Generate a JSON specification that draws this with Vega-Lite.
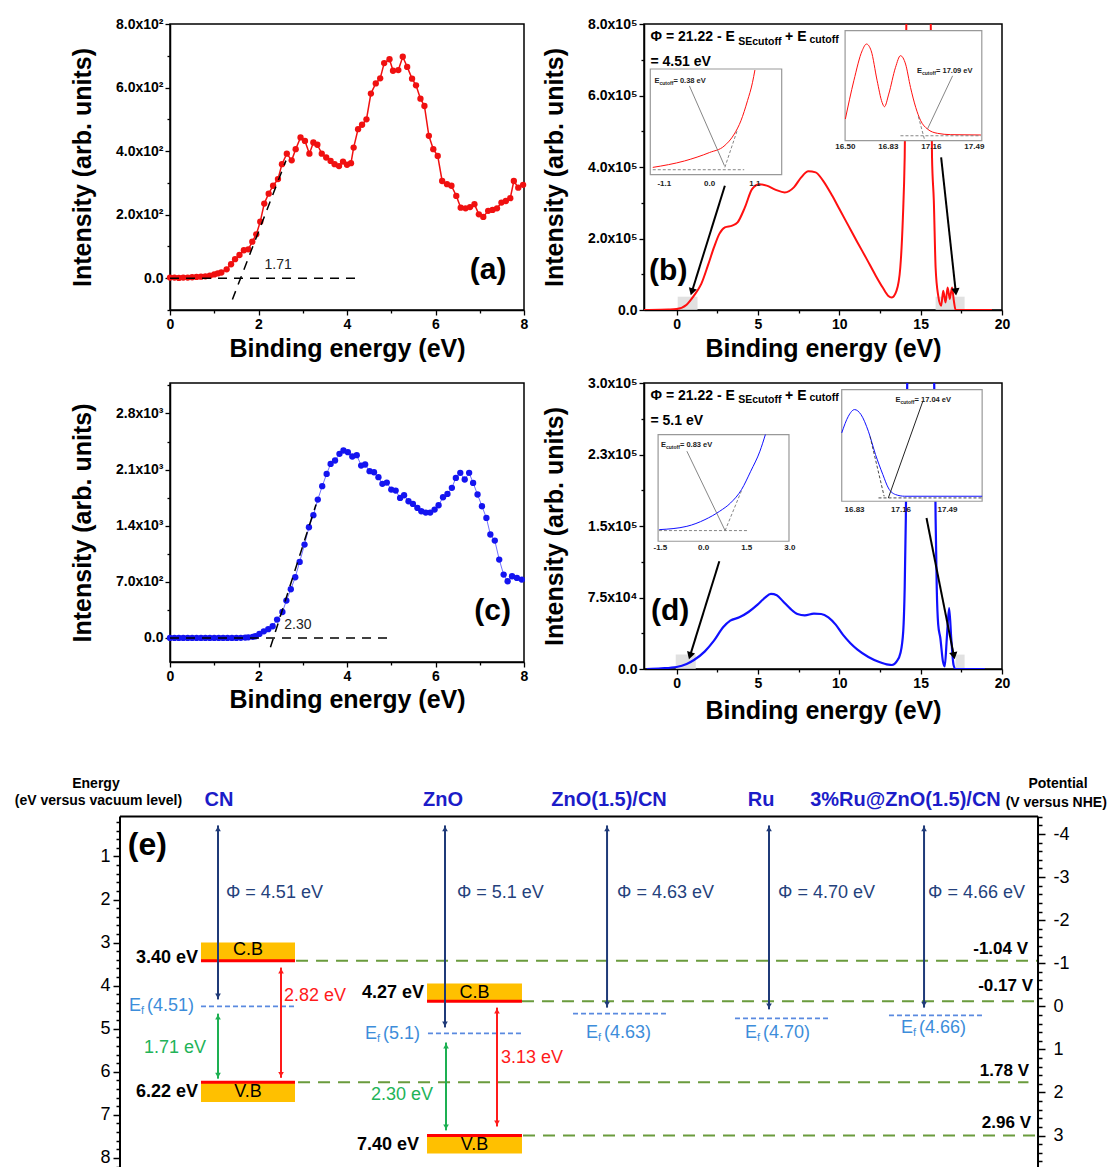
{
"$schema":"https://vega.github.io/schema/vega-lite/v6.json",
"background":"white",
"padding":{"left":14,"top":16,"right":0,"bottom":0},
"config":{"font":"Liberation Sans","view":{"stroke":null},
 "axis":{"domainColor":"#000","domainWidth":1.5,"tickColor":"#000","tickWidth":1.3,"labelColor":"#000","labelFont":"Liberation Sans","labelFontSize":14,"labelFontWeight":"bold","titleFont":"Liberation Sans","titleFontSize":25,"titleFontWeight":"bold","titleColor":"#000","grid":false,"labelOverlap":false,"labelFlush":false,"labelPadding":2}},
"datasets":{
"aPts":[{"x":0,"y":2},{"x":0.1,"y":2},{"x":0.2,"y":1},{"x":0.3,"y":2},{"x":0.4,"y":2},{"x":0.5,"y":3},{"x":0.6,"y":4},{"x":0.7,"y":5},{"x":0.8,"y":6},{"x":0.9,"y":8},{"x":1.0,"y":12},{"x":1.08,"y":15},{"x":1.16,"y":18},{"x":1.28,"y":28},{"x":1.38,"y":44},{"x":1.47,"y":60},{"x":1.57,"y":73},{"x":1.67,"y":88},{"x":1.77,"y":91},{"x":1.86,"y":115},{"x":1.95,"y":138},{"x":2.04,"y":178},{"x":2.13,"y":235},{"x":2.23,"y":266},{"x":2.33,"y":291},{"x":2.44,"y":312},{"x":2.53,"y":359},{"x":2.64,"y":392},{"x":2.75,"y":371},{"x":2.84,"y":406},{"x":2.95,"y":443},{"x":3.05,"y":432},{"x":3.15,"y":392},{"x":3.24,"y":427},{"x":3.33,"y":420},{"x":3.43,"y":392},{"x":3.53,"y":380},{"x":3.63,"y":369},{"x":3.72,"y":359},{"x":3.82,"y":353},{"x":3.91,"y":367},{"x":4.0,"y":357},{"x":4.09,"y":362},{"x":4.15,"y":411},{"x":4.25,"y":469},{"x":4.34,"y":483},{"x":4.44,"y":500},{"x":4.54,"y":581},{"x":4.65,"y":613},{"x":4.75,"y":629},{"x":4.84,"y":677},{"x":4.96,"y":689},{"x":5.04,"y":653},{"x":5.16,"y":655},{"x":5.26,"y":697},{"x":5.36,"y":665},{"x":5.47,"y":628},{"x":5.56,"y":607},{"x":5.66,"y":565},{"x":5.75,"y":542},{"x":5.85,"y":448},{"x":5.95,"y":406},{"x":6.05,"y":385},{"x":6.15,"y":306},{"x":6.26,"y":296},{"x":6.36,"y":291},{"x":6.47,"y":259},{"x":6.57,"y":222},{"x":6.68,"y":220},{"x":6.78,"y":224},{"x":6.88,"y":233},{"x":6.98,"y":201},{"x":7.08,"y":193},{"x":7.19,"y":212},{"x":7.29,"y":215},{"x":7.39,"y":220},{"x":7.49,"y":238},{"x":7.59,"y":243},{"x":7.69,"y":252},{"x":7.77,"y":306},{"x":7.87,"y":285},{"x":7.98,"y":294}],
"cPts":[{"x":0,"y":0},{"x":0.1,"y":0},{"x":0.2,"y":0},{"x":0.3,"y":0},{"x":0.4,"y":0},{"x":0.5,"y":0},{"x":0.6,"y":0},{"x":0.7,"y":0},{"x":0.8,"y":0},{"x":0.9,"y":0},{"x":1.0,"y":0},{"x":1.1,"y":0},{"x":1.2,"y":0},{"x":1.3,"y":0},{"x":1.4,"y":0},{"x":1.5,"y":0},{"x":1.6,"y":2},{"x":1.7,"y":5},{"x":1.77,"y":8},{"x":1.87,"y":14},{"x":1.93,"y":21},{"x":2.02,"y":50},{"x":2.12,"y":83},{"x":2.22,"y":110},{"x":2.32,"y":146},{"x":2.42,"y":229},{"x":2.54,"y":324},{"x":2.63,"y":466},{"x":2.73,"y":607},{"x":2.83,"y":757},{"x":2.93,"y":948},{"x":3.04,"y":1165},{"x":3.14,"y":1381},{"x":3.24,"y":1531},{"x":3.34,"y":1726},{"x":3.44,"y":1893},{"x":3.54,"y":2046},{"x":3.63,"y":2171},{"x":3.73,"y":2213},{"x":3.83,"y":2296},{"x":3.92,"y":2338},{"x":4.02,"y":2317},{"x":4.12,"y":2263},{"x":4.22,"y":2280},{"x":4.32,"y":2150},{"x":4.41,"y":2163},{"x":4.51,"y":2080},{"x":4.61,"y":2067},{"x":4.71,"y":2005},{"x":4.8,"y":1922},{"x":4.9,"y":1938},{"x":5.0,"y":1851},{"x":5.1,"y":1838},{"x":5.2,"y":1747},{"x":5.29,"y":1780},{"x":5.39,"y":1705},{"x":5.49,"y":1672},{"x":5.59,"y":1622},{"x":5.68,"y":1580},{"x":5.78,"y":1564},{"x":5.88,"y":1564},{"x":5.98,"y":1601},{"x":6.07,"y":1655},{"x":6.17,"y":1755},{"x":6.27,"y":1797},{"x":6.37,"y":1872},{"x":6.46,"y":1996},{"x":6.56,"y":2059},{"x":6.66,"y":1976},{"x":6.76,"y":2059},{"x":6.85,"y":1934},{"x":6.95,"y":1789},{"x":7.05,"y":1643},{"x":7.15,"y":1497},{"x":7.24,"y":1290},{"x":7.34,"y":1215},{"x":7.44,"y":978},{"x":7.54,"y":790},{"x":7.63,"y":707},{"x":7.73,"y":770},{"x":7.84,"y":749},{"x":7.95,"y":728}],
"bLine":[{"x":-2,"y":0},{"x":-1,"y":500},{"x":-0.5,"y":1200},{"x":0,"y":2800},{"x":0.62,"y":15000},{"x":1.07,"y":40000},{"x":1.52,"y":73000},{"x":1.96,"y":129000},{"x":2.3,"y":175000},{"x":2.63,"y":213000},{"x":2.97,"y":231000},{"x":3.42,"y":236000},{"x":3.75,"y":245000},{"x":4.2,"y":287000},{"x":4.64,"y":338000},{"x":5.09,"y":352000},{"x":5.54,"y":348000},{"x":6.1,"y":336000},{"x":6.65,"y":329000},{"x":7.21,"y":343000},{"x":7.66,"y":371000},{"x":8.1,"y":388000},{"x":8.55,"y":385000},{"x":9.0,"y":362000},{"x":9.56,"y":320000},{"x":10.0,"y":283000},{"x":10.56,"y":236000},{"x":11.12,"y":189000},{"x":11.68,"y":143000},{"x":12.24,"y":96000},{"x":12.68,"y":62000},{"x":13.0,"y":40000},{"x":13.23,"y":35000},{"x":13.52,"y":54000},{"x":13.75,"y":119000},{"x":13.91,"y":259000},{"x":14.02,"y":427000},{"x":14.15,"y":900000},{"x":14.3,"y":1000000},{"x":15.4,"y":1000000},{"x":15.6,"y":900000},{"x":15.7,"y":427000},{"x":15.81,"y":306000},{"x":15.92,"y":119000},{"x":16.08,"y":40000},{"x":16.26,"y":12000},{"x":16.39,"y":54000},{"x":16.53,"y":21000},{"x":16.66,"y":63000},{"x":16.79,"y":31000},{"x":16.93,"y":63000},{"x":17.04,"y":26000},{"x":17.15,"y":0},{"x":19.38,"y":0}],
"dLine":[{"x":-1.83,"y":0},{"x":-0.94,"y":700},{"x":0,"y":2100},{"x":0.62,"y":5200},{"x":1.07,"y":9400},{"x":1.74,"y":18500},{"x":2.3,"y":29700},{"x":2.86,"y":43700},{"x":3.3,"y":50700},{"x":3.86,"y":54200},{"x":4.42,"y":59800},{"x":4.98,"y":67500},{"x":5.42,"y":74500},{"x":5.8,"y":78700},{"x":6.16,"y":77300},{"x":6.54,"y":71000},{"x":6.99,"y":63300},{"x":7.43,"y":57700},{"x":7.88,"y":56300},{"x":8.44,"y":58000},{"x":8.89,"y":57700},{"x":9.33,"y":54200},{"x":9.78,"y":46500},{"x":10.22,"y":36000},{"x":10.67,"y":27300},{"x":11.12,"y":20300},{"x":11.79,"y":12600},{"x":12.46,"y":7300},{"x":13.02,"y":4500},{"x":13.24,"y":4200},{"x":13.53,"y":8000},{"x":13.76,"y":16800},{"x":13.93,"y":39500},{"x":14.02,"y":85000},{"x":14.09,"y":158000},{"x":14.16,"y":277000},{"x":14.3,"y":400000},{"x":15.7,"y":400000},{"x":15.85,"y":277000},{"x":15.92,"y":158000},{"x":15.99,"y":85000},{"x":16.08,"y":46500},{"x":16.21,"y":32500},{"x":16.37,"y":8000},{"x":16.48,"y":2800},{"x":16.61,"y":32500},{"x":16.75,"y":64000},{"x":16.88,"y":32500},{"x":17.02,"y":4500},{"x":17.15,"y":0},{"x":18.94,"y":0}],
"bIn1":[{"x":-1.38,"y":0.069},{"x":-0.61,"y":0.13},{"x":0,"y":0.21},{"x":0.35,"y":0.27},{"x":0.6,"y":0.385},{"x":0.76,"y":0.51},{"x":0.92,"y":0.7},{"x":1.04,"y":0.87},{"x":1.1,"y":0.99}],
"bIn2":[{"x":16.5,"y":0.197},{"x":16.565,"y":0.545},{"x":16.629,"y":0.818},{"x":16.662,"y":0.879},{"x":16.698,"y":0.818},{"x":16.744,"y":0.545},{"x":16.782,"y":0.348},{"x":16.8,"y":0.309},{"x":16.833,"y":0.424},{"x":16.885,"y":0.667},{"x":16.923,"y":0.773},{"x":16.962,"y":0.697},{"x":17.0,"y":0.485},{"x":17.04,"y":0.303},{"x":17.078,"y":0.182},{"x":17.13,"y":0.106},{"x":17.207,"y":0.067},{"x":17.309,"y":0.055},{"x":17.54,"y":0.052}],
"dIn1":[{"x":-1.54,"y":0.109},{"x":-0.58,"y":0.14},{"x":0.05,"y":0.203},{"x":0.56,"y":0.281},{"x":0.94,"y":0.359},{"x":1.32,"y":0.484},{"x":1.64,"y":0.656},{"x":1.96,"y":0.844},{"x":2.15,"y":1.0}],
"dIn2":[{"x":16.739,"y":0.612},{"x":16.786,"y":0.761},{"x":16.83,"y":0.821},{"x":16.876,"y":0.776},{"x":16.928,"y":0.627},{"x":16.979,"y":0.418},{"x":17.031,"y":0.239},{"x":17.07,"y":0.119},{"x":17.121,"y":0.06},{"x":17.186,"y":0.045},{"x":17.736,"y":0.045}]
},
"columns":2,"align":"none","bounds":"flush","spacing":{"row":73,"column":120},
"concat":[
{
 "width":354,"height":286,"view":{"stroke":"#000","strokeWidth":1.5},
 "encoding":{
  "x":{"field":"x","type":"quantitative","scale":{"domain":[0,8],"nice":false,"zero":false},"axis":{"orient":"bottom","title":"Binding energy (eV)","values":[0,1,2,3,4,5,6,7,8],"labelExpr":"datum.value % 2 == 0 ? datum.label : ''","tickSize":{"condition":{"test":"datum.value % 2 == 0","value":5},"value":3},"titlePadding":5}},
  "y":{"field":"y","type":"quantitative","scale":{"domain":[-100,800],"nice":false,"zero":false},"axis":{"orient":"left","title":"Intensity (arb. units)","values":[-100,0,100,200,300,400,500,600,700,800],"labelExpr":"datum.value == 0 ? '0.0' : (datum.value % 200 == 0 ? format(datum.value/100, '.1f') + 'x10²' : '')","tickSize":{"condition":{"test":"datum.value % 200 == 0","value":5},"value":3},"titlePadding":20}}
 },
 "layer":[
  {"data":{"name":"aPts"},"mark":{"type":"line","color":"#F01010","strokeWidth":1.5}},
  {"data":{"name":"aPts"},"mark":{"type":"circle","color":"#F01010","size":40,"opacity":1}},
  {"data":{"values":[{"g":1,"x":0,"y":0},{"g":1,"x":4.24,"y":0},{"g":2,"x":1.41,"y":-67},{"g":2,"x":2.62,"y":370}]},"mark":{"type":"line","color":"#000","strokeWidth":1.5,"strokeDash":[9,7]},"encoding":{"detail":{"field":"g"}}},
  {"data":{"values":[{"x":2.445,"y":43,"t":"1.71"}]},"mark":{"type":"text","fontSize":14,"color":"#222"},"encoding":{"text":{"field":"t"}}},
  {"data":{"values":[{"x":7.19,"y":27,"t":"(a)"}]},"mark":{"type":"text","fontSize":30,"fontWeight":"bold","color":"#000"},"encoding":{"text":{"field":"t"}}}
 ]
},
{
 "width":358,"height":286,"view":{"stroke":"#000","strokeWidth":1.5},
 "resolve":{"scale":{"x":"independent","y":"independent"}},
 "layer":[
  {"encoding":{
    "x":{"field":"x","type":"quantitative","scale":{"domain":[-2,20],"nice":false,"zero":false},"axis":{"orient":"bottom","title":"Binding energy (eV)","values":[0,2.5,5,7.5,10,12.5,15,17.5,20],"labelExpr":"datum.value % 5 == 0 ? datum.label : ''","tickSize":{"condition":{"test":"datum.value % 5 == 0","value":5},"value":3},"titlePadding":5}},
    "y":{"field":"y","type":"quantitative","scale":{"domain":[0,800000],"nice":false,"zero":false},"axis":{"orient":"left","title":"Intensity (arb. units)","values":[0,100000,200000,300000,400000,500000,600000,700000,800000],"labelExpr":"datum.value == 0 ? '0.0' : (datum.value % 200000 == 0 ? format(datum.value/100000, '.1f') + 'x10⁵' : '')","tickSize":{"condition":{"test":"datum.value % 200000 == 0","value":5},"value":3},"titlePadding":20}}},
   "layer":[
    {"data":{"values":[{"x":0.07,"x2":1.29,"y":0,"y2":37200},{"x":15.92,"x2":17.7,"y":0,"y2":37200}]},"mark":{"type":"rect","color":"#DADADA","opacity":0.8},"encoding":{"x2":{"field":"x2"},"y2":{"field":"y2"}}},
    {"data":{"name":"bLine"},"mark":{"type":"line","color":"#FF1010","strokeWidth":2,"clip":true,"interpolate":"monotone"}},
    {"data":{"values":[{"x":2.97,"y":347700,"x2":0.96,"y2":54000},{"x":16.26,"y":427000,"x2":17.15,"y2":54000}]},"mark":{"type":"rule","color":"#000","strokeWidth":2},"encoding":{"x2":{"field":"x2"},"y2":{"field":"y2"}}},
    {"data":{"values":[{"x":0.96,"y":54000}]},"mark":{"type":"point","shape":"triangle","angle":197,"filled":true,"size":70,"color":"#000","opacity":1}},
    {"data":{"values":[{"x":17.15,"y":54000}]},"mark":{"type":"point","shape":"triangle","angle":174,"filled":true,"size":70,"color":"#000","opacity":1}},
    {"data":{"values":[{"x":-1.6,"y":762500,"t":"Φ = 21.22 - E"},{"x":6.67,"y":762500,"t":"+ E"},{"x":-1.6,"y":693000,"t":"= 4.51 eV"}]},"mark":{"type":"text","fontSize":14,"fontWeight":"bold","align":"left","color":"#000"},"encoding":{"text":{"field":"t"}}},
    {"data":{"values":[{"x":3.79,"y":751000,"t":"SEcutoff"},{"x":8.17,"y":755000,"t":"cutoff"}]},"mark":{"type":"text","fontSize":10.5,"fontWeight":"bold","align":"left","color":"#000"},"encoding":{"text":{"field":"t"}}},
    {"data":{"values":[{"x":-0.51,"y":110000,"t":"(b)"}]},"mark":{"type":"text","fontSize":30,"fontWeight":"bold","color":"#000"},"encoding":{"text":{"field":"t"}}}
   ]},
  {"encoding":{
    "x":{"field":"x","type":"quantitative","scale":{"domain":[-1.593,7.099],"nice":false,"zero":false},"axis":null},
    "y":{"field":"y","type":"quantitative","scale":{"domain":[-1.28,1.4256],"nice":false,"zero":false},"axis":null}},
   "layer":[
    {"data":{"values":[{"x":-1.44,"x2":1.75,"y":0,"y2":1}]},"mark":{"type":"rect","fill":"#fff","stroke":"#999","strokeWidth":1.2},"encoding":{"x2":{"field":"x2"},"y2":{"field":"y2"}}},
    {"data":{"name":"bIn1"},"mark":{"type":"line","color":"#FF1010","strokeWidth":1,"interpolate":"monotone"}},
    {"data":{"values":[{"g":1,"x":-1.38,"y":0.047},{"g":1,"x":0.84,"y":0.047},{"g":2,"x":0.37,"y":0.07},{"g":2,"x":0.68,"y":0.43}]},"mark":{"type":"line","color":"#777","strokeWidth":0.9,"strokeDash":[3,2]},"encoding":{"detail":{"field":"g"}}},
    {"data":{"values":[{"x":-0.49,"y":0.84,"x2":0.36,"y2":0.085}]},"mark":{"type":"rule","color":"#777","strokeWidth":0.9},"encoding":{"x2":{"field":"x2"},"y2":{"field":"y2"}}},
    {"data":{"values":[{"x":-1.34,"y":0.89,"t":"= 0.38 eV"}]},"layer":[
      {"mark":{"type":"text","text":"E","fontSize":7.5,"fontWeight":"bold","align":"left","color":"#222"}},
      {"mark":{"type":"text","text":"cutoff","fontSize":5,"fontWeight":"bold","align":"left","dx":5,"dy":2,"color":"#222"}},
      {"mark":{"type":"text","fontSize":7.5,"fontWeight":"bold","align":"left","dx":19,"color":"#222"},"encoding":{"text":{"field":"t"}}}]},
    {"data":{"values":[{"x":-1.1,"y":-0.09,"t":"-1.1"},{"x":0,"y":-0.09,"t":"0.0"},{"x":1.1,"y":-0.09,"t":"1.1"}]},"mark":{"type":"text","fontSize":8,"fontWeight":"bold","color":"#222"},"encoding":{"text":{"field":"t"}}}
   ]},
  {"encoding":{
    "x":{"field":"x","type":"quantitative","scale":{"domain":[14.955,17.702],"nice":false,"zero":false},"axis":null},
    "y":{"field":"y","type":"quantitative","scale":{"domain":[-1.539,1.061],"nice":false,"zero":false},"axis":null}},
   "layer":[
    {"data":{"values":[{"x":16.498,"x2":17.547,"y":0,"y2":1}]},"mark":{"type":"rect","fill":"#fff","stroke":"#999","strokeWidth":1.2},"encoding":{"x2":{"field":"x2"},"y2":{"field":"y2"}}},
    {"data":{"name":"bIn2"},"mark":{"type":"line","color":"#FF1010","strokeWidth":1,"interpolate":"monotone"}},
    {"data":{"values":[{"g":1,"x":16.923,"y":0.045},{"g":1,"x":17.54,"y":0.045},{"g":2,"x":17.06,"y":0.22},{"g":2,"x":17.11,"y":0.0}]},"mark":{"type":"line","color":"#777","strokeWidth":0.9,"strokeDash":[3,2]},"encoding":{"detail":{"field":"g"}}},
    {"data":{"values":[{"x":17.323,"y":0.59,"x2":17.13,"y2":0.106}]},"mark":{"type":"rule","color":"#777","strokeWidth":0.9},"encoding":{"x2":{"field":"x2"},"y2":{"field":"y2"}}},
    {"data":{"values":[{"x":17.05,"y":0.636,"t":"= 17.09 eV"}]},"layer":[
      {"mark":{"type":"text","text":"E","fontSize":7.5,"fontWeight":"bold","align":"left","color":"#222"}},
      {"mark":{"type":"text","text":"cutoff","fontSize":5,"fontWeight":"bold","align":"left","dx":5,"dy":2,"color":"#222"}},
      {"mark":{"type":"text","fontSize":7.5,"fontWeight":"bold","align":"left","dx":19,"color":"#222"},"encoding":{"text":{"field":"t"}}}]},
    {"data":{"values":[{"x":16.5,"y":-0.06,"t":"16.50"},{"x":16.83,"y":-0.06,"t":"16.83"},{"x":17.16,"y":-0.06,"t":"17.16"},{"x":17.49,"y":-0.06,"t":"17.49"}]},"mark":{"type":"text","fontSize":8,"fontWeight":"bold","color":"#222"},"encoding":{"text":{"field":"t"}}}
   ]}
 ]
},
{
 "width":354,"height":279,"view":{"stroke":"#000","strokeWidth":1.5},
 "encoding":{
  "x":{"field":"x","type":"quantitative","scale":{"domain":[0,8],"nice":false,"zero":false},"axis":{"orient":"bottom","title":"Binding energy (eV)","values":[0,1,2,3,4,5,6,7,8],"labelExpr":"datum.value % 2 == 0 ? datum.label : ''","tickSize":{"condition":{"test":"datum.value % 2 == 0","value":5},"value":3},"titlePadding":4}},
  "y":{"field":"y","type":"quantitative","scale":{"domain":[-300,3180],"nice":false,"zero":false},"axis":{"orient":"left","title":"Intensity (arb. units)","values":[0,350,700,1050,1400,1750,2100,2450,2800,3150],"labelExpr":"datum.value == 0 ? '0.0' : (datum.value == 700 ? '7.0x10²' : (datum.value % 700 == 0 ? format(datum.value/1000, '.1f') + 'x10³' : ''))","tickSize":{"condition":{"test":"datum.value % 700 == 0","value":5},"value":3},"titlePadding":20}}
 },
 "layer":[
  {"data":{"name":"cPts"},"mark":{"type":"line","color":"#7070FF","strokeWidth":1}},
  {"data":{"name":"cPts"},"mark":{"type":"circle","color":"#1414F0","size":40,"opacity":1}},
  {"data":{"values":[{"g":1,"x":0,"y":0},{"g":1,"x":5.0,"y":0},{"g":2,"x":2.27,"y":-116},{"g":2,"x":3.3,"y":1665}]},"mark":{"type":"line","color":"#000","strokeWidth":1.5,"strokeDash":[9,7]},"encoding":{"detail":{"field":"g"}}},
  {"data":{"values":[{"x":2.89,"y":158,"t":"2.30"}]},"mark":{"type":"text","fontSize":14,"color":"#222"},"encoding":{"text":{"field":"t"}}},
  {"data":{"values":[{"x":7.29,"y":333,"t":"(c)"}]},"mark":{"type":"text","fontSize":30,"fontWeight":"bold","color":"#000"},"encoding":{"text":{"field":"t"}}}
 ]
},
{
 "width":358,"height":286,"view":{"stroke":"#000","strokeWidth":1.5},
 "resolve":{"scale":{"x":"independent","y":"independent"}},
 "layer":[
  {"encoding":{
    "x":{"field":"x","type":"quantitative","scale":{"domain":[-2,20],"nice":false,"zero":false},"axis":{"orient":"bottom","title":"Binding energy (eV)","values":[0,2.5,5,7.5,10,12.5,15,17.5,20],"labelExpr":"datum.value % 5 == 0 ? datum.label : ''","tickSize":{"condition":{"test":"datum.value % 5 == 0","value":5},"value":3},"titlePadding":8}},
    "y":{"field":"y","type":"quantitative","scale":{"domain":[0,300000],"nice":false,"zero":false},"axis":{"orient":"left","title":"Intensity (arb. units)","values":[0,37500,75000,112500,150000,187500,225000,262500,300000],"labelExpr":"datum.value == 0 ? '0.0' : (datum.value == 75000 ? '7.5x10⁴' : (datum.value == 150000 ? '1.5x10⁵' : (datum.value == 225000 ? '2.3x10⁵' : (datum.value == 300000 ? '3.0x10⁵' : ''))))","tickSize":{"condition":{"test":"datum.value % 75000 == 0","value":5},"value":3},"titlePadding":20}}},
   "layer":[
    {"data":{"values":[{"x":-0.05,"x2":1.18,"y":0,"y2":15100},{"x":17.15,"x2":17.7,"y":0,"y2":15100}]},"mark":{"type":"rect","color":"#DADADA","opacity":0.8},"encoding":{"x2":{"field":"x2"},"y2":{"field":"y2"}}},
    {"data":{"name":"dLine"},"mark":{"type":"line","color":"#1010FF","strokeWidth":2.2,"clip":true,"interpolate":"monotone"}},
    {"data":{"values":[{"x":2.63,"y":113000,"x2":0.85,"y2":15100},{"x":15.36,"y":158400,"x2":17.03,"y2":15100}]},"mark":{"type":"rule","color":"#000","strokeWidth":2},"encoding":{"x2":{"field":"x2"},"y2":{"field":"y2"}}},
    {"data":{"values":[{"x":0.85,"y":15100}]},"mark":{"type":"point","shape":"triangle","angle":197,"filled":true,"size":70,"color":"#000","opacity":1}},
    {"data":{"values":[{"x":17.03,"y":15100}]},"mark":{"type":"point","shape":"triangle","angle":169,"filled":true,"size":70,"color":"#000","opacity":1}},
    {"data":{"values":[{"x":-1.6,"y":286000,"t":"Φ = 21.22 - E"},{"x":6.67,"y":286000,"t":"+ E"},{"x":-1.6,"y":259800,"t":"= 5.1 eV"}]},"mark":{"type":"text","fontSize":14,"fontWeight":"bold","align":"left","color":"#000"},"encoding":{"text":{"field":"t"}}},
    {"data":{"values":[{"x":3.79,"y":281800,"t":"SEcutoff"},{"x":8.17,"y":284300,"t":"cutoff"}]},"mark":{"type":"text","fontSize":10.5,"fontWeight":"bold","align":"left","color":"#000"},"encoding":{"text":{"field":"t"}}},
    {"data":{"values":[{"x":-0.39,"y":60500,"t":"(d)"}]},"mark":{"type":"text","fontSize":30,"fontWeight":"bold","color":"#000"},"encoding":{"text":{"field":"t"}}}
   ]},
  {"encoding":{
    "x":{"field":"x","type":"quantitative","scale":{"domain":[-2.07,10.375],"nice":false,"zero":false},"axis":null},
    "y":{"field":"y","type":"quantitative","scale":{"domain":[-1.197,1.483],"nice":false,"zero":false},"axis":null}},
   "layer":[
    {"data":{"values":[{"x":-1.58,"x2":2.97,"y":0,"y2":1}]},"mark":{"type":"rect","fill":"#fff","stroke":"#999","strokeWidth":1.2},"encoding":{"x2":{"field":"x2"},"y2":{"field":"y2"}}},
    {"data":{"name":"dIn1"},"mark":{"type":"line","color":"#1010FF","strokeWidth":1,"interpolate":"monotone"}},
    {"data":{"values":[{"g":1,"x":-1.55,"y":0.1},{"g":1,"x":1.57,"y":0.1},{"g":2,"x":0.75,"y":0.1},{"g":2,"x":1.32,"y":0.475}]},"mark":{"type":"line","color":"#777","strokeWidth":0.9,"strokeDash":[3,2]},"encoding":{"detail":{"field":"g"}}},
    {"data":{"values":[{"x":-0.58,"y":0.844,"x2":0.75,"y2":0.1}]},"mark":{"type":"rule","color":"#777","strokeWidth":0.9},"encoding":{"x2":{"field":"x2"},"y2":{"field":"y2"}}},
    {"data":{"values":[{"x":-1.48,"y":0.9,"t":"= 0.83 eV"}]},"layer":[
      {"mark":{"type":"text","text":"E","fontSize":7.5,"fontWeight":"bold","align":"left","color":"#222"}},
      {"mark":{"type":"text","text":"cutoff","fontSize":5,"fontWeight":"bold","align":"left","dx":5,"dy":2,"color":"#222"}},
      {"mark":{"type":"text","fontSize":7.5,"fontWeight":"bold","align":"left","dx":19,"color":"#222"},"encoding":{"text":{"field":"t"}}}]},
    {"data":{"values":[{"x":-1.5,"y":-0.063,"t":"-1.5"},{"x":0,"y":-0.063,"t":"0.0"},{"x":1.5,"y":-0.063,"t":"1.5"},{"x":3.0,"y":-0.063,"t":"3.0"}]},"mark":{"type":"text","fontSize":8,"fontWeight":"bold","color":"#222"},"encoding":{"text":{"field":"t"}}}
   ]},
  {"encoding":{
    "x":{"field":"x","type":"quantitative","scale":{"domain":[15.335,17.877],"nice":false,"zero":false},"axis":null},
    "y":{"field":"y","type":"quantitative","scale":{"domain":[-1.502,1.059],"nice":false,"zero":false},"axis":null}},
   "layer":[
    {"data":{"values":[{"x":16.739,"x2":17.736,"y":0,"y2":1}]},"mark":{"type":"rect","fill":"#fff","stroke":"#999","strokeWidth":1.2},"encoding":{"x2":{"field":"x2"},"y2":{"field":"y2"}}},
    {"data":{"name":"dIn2"},"mark":{"type":"line","color":"#1010FF","strokeWidth":1,"interpolate":"monotone"}},
    {"data":{"values":[{"g":1,"x":17.0,"y":0.03},{"g":1,"x":17.736,"y":0.03},{"g":2,"x":16.94,"y":0.58},{"g":2,"x":17.04,"y":0.045}]},"mark":{"type":"line","color":"#333","strokeWidth":0.9,"strokeDash":[3,2]},"encoding":{"detail":{"field":"g"}}},
    {"data":{"values":[{"x":17.315,"y":0.896,"x2":17.07,"y2":0.03}]},"mark":{"type":"rule","color":"#222","strokeWidth":1},"encoding":{"x2":{"field":"x2"},"y2":{"field":"y2"}}},
    {"data":{"values":[{"x":17.121,"y":0.91,"t":"= 17.04 eV"}]},"layer":[
      {"mark":{"type":"text","text":"E","fontSize":7.5,"fontWeight":"bold","align":"left","color":"#222"}},
      {"mark":{"type":"text","text":"cutoff","fontSize":5,"fontWeight":"bold","align":"left","dx":5,"dy":2,"color":"#222"}},
      {"mark":{"type":"text","fontSize":7.5,"fontWeight":"bold","align":"left","dx":19,"color":"#222"},"encoding":{"text":{"field":"t"}}}]},
    {"data":{"values":[{"x":16.83,"y":-0.075,"t":"16.83"},{"x":17.16,"y":-0.075,"t":"17.16"},{"x":17.49,"y":-0.075,"t":"17.49"}]},"mark":{"type":"text","fontSize":8,"fontWeight":"bold","color":"#222"},"encoding":{"text":{"field":"t"}}}
   ]}
 ]
},
{
 "width":354,"height":427,"view":{"stroke":null},
 "resolve":{"scale":{"y":"independent"}},
 "layer":[
  {"encoding":{
    "x":{"field":"x","type":"quantitative","scale":{"domain":[0,40.783],"nice":false,"zero":false},"axis":null},
    "y":{"field":"y","type":"quantitative","scale":{"domain":[-1.657,8.257],"reverse":true,"nice":false,"zero":false},"axis":{"orient":"left","offset":50,"title":null,"domain":false,"values":[0.2,0.4,0.6,0.8,1,1.2,1.4,1.6,1.8,2,2.2,2.4,2.6,2.8,3,3.2,3.4,3.6,3.8,4,4.2,4.4,4.6,4.8,5,5.2,5.4,5.6,5.8,6,6.2,6.4,6.6,6.8,7,7.2,7.4,7.6,7.8,8,8.2],"labelExpr":"abs(datum.value - round(datum.value)) < 0.01 ? '' + round(datum.value) : ''","tickSize":{"condition":{"test":"abs(datum.value - round(datum.value)) < 0.01","value":7},"value":4},"tickWidth":1.5,"labelFontSize":18,"labelFontWeight":"normal","labelPadding":3}}},
   "layer":[
    {"data":{"values":[{"x":3.57,"x2":14.4,"y":3.0,"y2":3.42},{"x":3.57,"x2":14.4,"y":6.24,"y2":6.7},{"x":29.61,"x2":40.55,"y":3.95,"y2":4.36},{"x":29.61,"x2":40.55,"y":7.48,"y2":7.9}]},"mark":{"type":"rect","color":"#FFC000","opacity":1},"encoding":{"x2":{"field":"x2"},"y2":{"field":"y2"}}},
    {"data":{"values":[{"x":3.57,"x2":14.4,"y":3.42},{"x":3.57,"x2":14.4,"y":6.24},{"x":29.61,"x2":40.55,"y":4.36},{"x":29.61,"x2":40.55,"y":7.48}]},"mark":{"type":"rule","color":"#FF0000","strokeWidth":3},"encoding":{"x2":{"field":"x2"}}},
    {"data":{"values":[{"x":14.52,"x2":100,"y":3.42},{"x":40.55,"x2":100,"y":4.36},{"x":14.75,"x2":98.9,"y":6.24},{"x":40.67,"x2":100,"y":7.48}]},"mark":{"type":"rule","color":"#6A9B3D","strokeWidth":2,"strokeDash":[12,8]},"encoding":{"x2":{"field":"x2"}}},
    {"data":{"values":[{"x":3.57,"x2":14.52,"y":4.48},{"x":29.72,"x2":40.55,"y":5.11},{"x":46.43,"x2":57.14,"y":4.65},{"x":65.09,"x2":75.92,"y":4.76},{"x":82.83,"x2":93.78,"y":4.69}]},"mark":{"type":"rule","color":"#5A8AE0","strokeWidth":1.8,"strokeDash":[5,3]},"encoding":{"x2":{"field":"x2"}}},
    {"data":{"values":[{"x":5.53,"y":0.28,"y2":4.32,"k":"phi"},{"x":31.68,"y":0.28,"y2":4.97,"k":"phi"},{"x":50.35,"y":0.28,"y2":4.51,"k":"phi"},{"x":69.01,"y":0.28,"y2":4.55,"k":"phi"},{"x":86.87,"y":0.28,"y2":4.51,"k":"phi"},{"x":5.53,"y":4.65,"y2":6.16,"k":"vb"},{"x":31.8,"y":5.32,"y2":7.36,"k":"vb"},{"x":12.79,"y":3.58,"y2":6.14,"k":"gap"},{"x":37.67,"y":4.51,"y2":7.27,"k":"gap"}]},"mark":{"type":"rule","strokeWidth":2},"encoding":{"y2":{"field":"y2"},"color":{"field":"k","type":"nominal","scale":{"domain":["phi","vb","gap"],"range":["#1F3A78","#1DB052","#FF1A1A"]},"legend":null}}},
    {"data":{"values":[{"x":5.53,"y":0.36,"k":"phi","d":"up"},{"x":5.53,"y":4.24,"k":"phi","d":"down"},{"x":31.68,"y":0.36,"k":"phi","d":"up"},{"x":31.68,"y":4.89,"k":"phi","d":"down"},{"x":50.35,"y":0.36,"k":"phi","d":"up"},{"x":50.35,"y":4.43,"k":"phi","d":"down"},{"x":69.01,"y":0.36,"k":"phi","d":"up"},{"x":69.01,"y":4.47,"k":"phi","d":"down"},{"x":86.87,"y":0.36,"k":"phi","d":"up"},{"x":86.87,"y":4.43,"k":"phi","d":"down"},{"x":5.53,"y":4.73,"k":"vb","d":"up"},{"x":5.53,"y":6.08,"k":"vb","d":"down"},{"x":31.8,"y":5.4,"k":"vb","d":"up"},{"x":31.8,"y":7.28,"k":"vb","d":"down"},{"x":12.79,"y":3.66,"k":"gap","d":"up"},{"x":12.79,"y":6.06,"k":"gap","d":"down"},{"x":37.67,"y":4.59,"k":"gap","d":"up"},{"x":37.67,"y":7.19,"k":"gap","d":"down"}]},"mark":{"type":"point","filled":true,"size":32,"opacity":1},"encoding":{"shape":{"field":"d","type":"nominal","scale":{"domain":["up","down"],"range":["triangle-up","triangle-down"]},"legend":null},"color":{"field":"k","type":"nominal","scale":{"domain":["phi","vb","gap"],"range":["#1F3A78","#1DB052","#FF1A1A"]},"legend":null}}},
    {"data":{"values":[{"x":-5.76,"x2":100,"y":0.07,"y2":0.07},{"x":-5.76,"x2":-5.76,"y":0.07,"y2":8.257},{"x":100,"x2":100,"y":0.07,"y2":8.257}]},"mark":{"type":"rule","color":"#000","strokeWidth":2},"encoding":{"x2":{"field":"x2"},"y2":{"field":"y2"}}},
    {"data":{"values":[{"x":5.65,"y":-0.32,"t":"CN"},{"x":31.45,"y":-0.32,"t":"ZnO"},{"x":50.58,"y":-0.32,"t":"ZnO(1.5)/CN"},{"x":68.09,"y":-0.32,"t":"Ru"},{"x":84.73,"y":-0.32,"t":"3%Ru@ZnO(1.5)/CN"}]},"mark":{"type":"text","fontSize":20,"fontWeight":"bold","color":"#1C1CC8"},"encoding":{"text":{"field":"t"}}},
    {"data":{"values":[{"x":-8.53,"y":-0.69,"t":"Energy"},{"x":-8.24,"y":-0.28,"t":"(eV versus vacuum level)"},{"x":102.3,"y":-0.69,"t":"Potential"},{"x":102.1,"y":-0.25,"t":"(V versus NHE)"}]},"mark":{"type":"text","fontSize":14,"fontWeight":"bold","color":"#000"},"encoding":{"text":{"field":"t"}}},
    {"data":{"values":[{"x":-4.87,"y":0.74,"t":"(e)"}]},"mark":{"type":"text","fontSize":32,"fontWeight":"bold","align":"left","color":"#000"},"encoding":{"text":{"field":"t"}}},
    {"data":{"values":[{"x":6.45,"y":1.84,"t":"Φ = 4.51 eV"},{"x":33.06,"y":1.84,"t":"Φ = 5.1 eV"},{"x":51.5,"y":1.84,"t":"Φ = 4.63 eV"},{"x":70.05,"y":1.84,"t":"Φ = 4.70 eV"},{"x":87.33,"y":1.84,"t":"Φ = 4.66 eV"}]},"mark":{"type":"text","fontSize":18,"align":"left","color":"#24417C"},"encoding":{"text":{"field":"t"}}},
    {"data":{"values":[{"x":3.23,"y":3.35,"t":"3.40 eV"},{"x":3.23,"y":6.47,"t":"6.22 eV"},{"x":29.26,"y":4.18,"t":"4.27 eV"},{"x":28.69,"y":7.71,"t":"7.40 eV"}]},"mark":{"type":"text","fontSize":18,"fontWeight":"bold","align":"right","color":"#000"},"encoding":{"text":{"field":"t"}}},
    {"data":{"values":[{"x":8.99,"y":3.18,"t":"C.B"},{"x":8.99,"y":6.47,"t":"V.B"},{"x":35.08,"y":4.16,"t":"C.B"},{"x":35.08,"y":7.71,"t":"V.B"}]},"mark":{"type":"text","fontSize":18,"color":"#000"},"encoding":{"text":{"field":"t"}}},
    {"data":{"values":[{"x":-4.72,"y":4.48,"t":"(4.51)"},{"x":22.47,"y":5.13,"t":"(5.1)"},{"x":47.93,"y":5.09,"t":"(4.63)"},{"x":66.24,"y":5.09,"t":"(4.70)"},{"x":84.22,"y":4.98,"t":"(4.66)"}]},"layer":[
      {"mark":{"type":"text","text":"E","fontSize":18,"align":"left","color":"#3D8DDA"}},
      {"mark":{"type":"text","text":"f","fontSize":11,"align":"left","dx":12,"dy":5,"color":"#3D8DDA"}},
      {"mark":{"type":"text","fontSize":18,"align":"left","dx":18,"color":"#3D8DDA"},"encoding":{"text":{"field":"t"}}}]},
    {"data":{"values":[{"x":13.13,"y":4.23,"t":"2.82 eV"},{"x":38.13,"y":5.68,"t":"3.13 eV"}]},"mark":{"type":"text","fontSize":18,"align":"left","color":"#FF1A1A"},"encoding":{"text":{"field":"t"}}},
    {"data":{"values":[{"x":-3.0,"y":5.44,"t":"1.71 eV"},{"x":23.16,"y":6.55,"t":"2.30 eV"}]},"mark":{"type":"text","fontSize":18,"align":"left","color":"#22B358"},"encoding":{"text":{"field":"t"}}},
    {"data":{"values":[{"x":98.85,"y":3.14,"t":"-1.04 V"},{"x":99.42,"y":4.01,"t":"-0.17 V"},{"x":98.96,"y":5.99,"t":"1.78 V"},{"x":99.19,"y":7.2,"t":"2.96 V"}]},"mark":{"type":"text","fontSize":17,"fontWeight":"bold","align":"right","color":"#000"},"encoding":{"text":{"field":"t"}}}
   ]},
  {"data":{"values":[{"v":0}]},"mark":{"type":"rule","opacity":0},
   "encoding":{"y":{"field":"v","type":"quantitative","scale":{"domain":[-6.137,3.777],"reverse":true,"nice":false,"zero":false},"axis":{"orient":"right","offset":514,"title":null,"domain":false,"values":[-4.4,-4.2,-4,-3.8,-3.6,-3.4,-3.2,-3,-2.8,-2.6,-2.4,-2.2,-2,-1.8,-1.6,-1.4,-1.2,-1,-0.8,-0.6,-0.4,-0.2,0,0.2,0.4,0.6,0.8,1,1.2,1.4,1.6,1.8,2,2.2,2.4,2.6,2.8,3,3.2,3.4,3.6],"labelExpr":"abs(datum.value - round(datum.value)) < 0.01 ? '' + round(datum.value) : ''","tickSize":{"condition":{"test":"abs(datum.value - round(datum.value)) < 0.01","value":7},"value":4},"tickWidth":1.5,"labelFontSize":18,"labelFontWeight":"normal","labelPadding":8}}}}
 ]
}
]
}
